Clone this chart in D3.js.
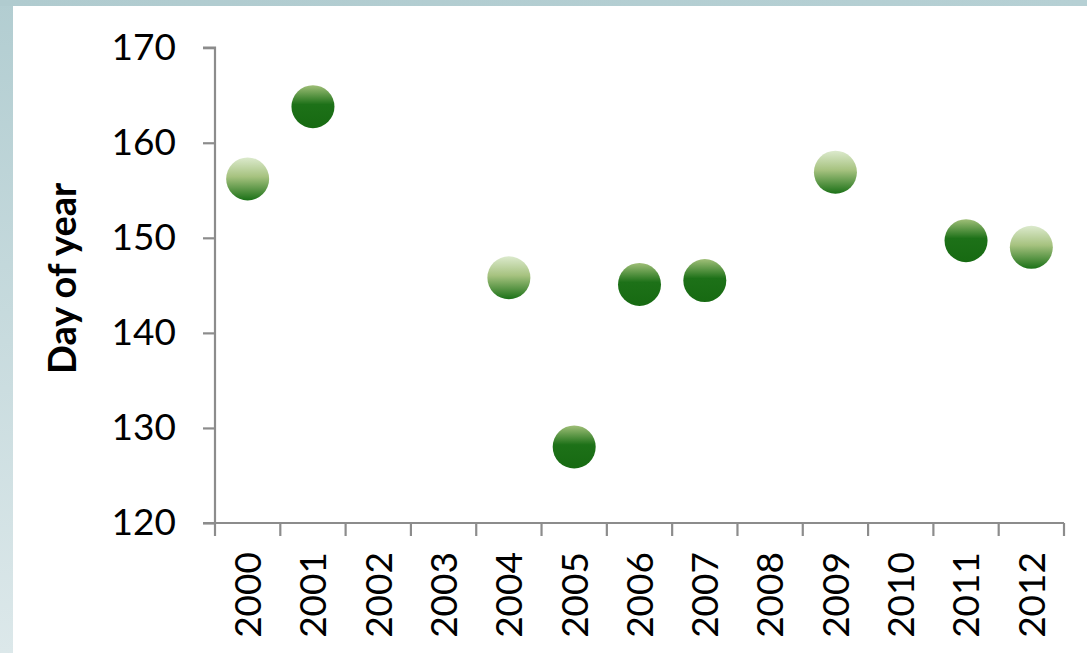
<!DOCTYPE html>
<html>
<head>
<meta charset="utf-8">
<script src="https://cdn.jsdelivr.net/npm/d3@7/dist/d3.min.js"></script>
<style>
  html, body { margin: 0; padding: 0; background: #ffffff; }
  svg { display: block; }
  text { font-family: Lato, "Open Sans", sans-serif; fill: #000; }
</style>
</head>
<body>
<svg id="chart" width="1087" height="653"></svg>
<script>
// Year categories along the x axis
const years = ["2000","2001","2002","2003","2004","2005","2006","2007","2008","2009","2010","2011","2012"];
// Day-of-year values, split by marker style (null = no observation in that series)
const lightValues = [156.2, null, null, null, 145.8, null, null, null, null, 156.9, null, null, 149.0];
const darkValues  = [null, 163.8, null, null, null, 128.0, 145.1, 145.5, null, null, null, 149.7, null];
// Value axis ticks
const yTicks = [120, 130, 140, 150, 160, 170];
const yTitle = "Day of year";

const W = 1087, H = 653;
const svg = d3.select("#chart");
const defs = svg.append("defs");

// Frame: pale blue-grey strips on the top and left edges
const frameV = defs.append("linearGradient").attr("id", "frameV")
  .attr("x1", 0).attr("y1", 0).attr("x2", 0).attr("y2", 1);
frameV.append("stop").attr("offset", 0).attr("stop-color", "#b2cdd1");
frameV.append("stop").attr("offset", 1).attr("stop-color", "#dce8ea");
const frameH = defs.append("linearGradient").attr("id", "frameH")
  .attr("x1", 0).attr("y1", 0).attr("x2", 1).attr("y2", 0);
frameH.append("stop").attr("offset", 0).attr("stop-color", "#b0cbcf");
frameH.append("stop").attr("offset", 1).attr("stop-color", "#b6d0d4");
svg.append("rect").attr("x", 0).attr("y", 0).attr("width", 13).attr("height", H).attr("fill", "url(#frameV)");
svg.append("rect").attr("x", 0).attr("y", 0).attr("width", W).attr("height", 6).attr("fill", "url(#frameH)");

// Marker fills
const gLight = defs.append("linearGradient").attr("id", "gLight")
  .attr("x1", 0).attr("y1", 0).attr("x2", 0).attr("y2", 1);
gLight.append("stop").attr("offset", 0).attr("stop-color", "#dceacd");
gLight.append("stop").attr("offset", 0.45).attr("stop-color", "#a6c27f");
gLight.append("stop").attr("offset", 1).attr("stop-color", "#1b7117");
const gDark = defs.append("linearGradient").attr("id", "gDark")
  .attr("x1", 0).attr("y1", 0).attr("x2", 0).attr("y2", 1);
gDark.append("stop").attr("offset", 0).attr("stop-color", "#a0bf78");
gDark.append("stop").attr("offset", 0.45).attr("stop-color", "#1d7118");
gDark.append("stop").attr("offset", 1).attr("stop-color", "#176a12");

const plot = { left: 215, right: 1064, top: 47.7, bottom: 523 };

const x = d3.scaleBand().domain(years).range([plot.left, plot.right]).padding(0);
const y = d3.scaleLinear().domain([120, 170]).range([plot.bottom, plot.top]);

const axisColor = "#8c8c8c";

// Y axis
const yAxis = svg.append("g").attr("transform", `translate(${plot.left},0)`)
  .call(d3.axisLeft(y).tickValues(yTicks).tickSize(12).tickPadding(27).tickFormat(d3.format("d")));
yAxis.select(".domain").attr("stroke", axisColor).attr("stroke-width", 2.2);
yAxis.selectAll(".tick line").attr("stroke", axisColor).attr("stroke-width", 2.2);
yAxis.selectAll(".tick text").style("font-size", "37px").attr("fill", "#000");
yAxis.select(".domain").attr("d", `M-12,${plot.top}H0V${plot.bottom}`);

// X axis: labels centred in each band, tick marks on band boundaries
const xAxis = svg.append("g").attr("transform", `translate(0,${plot.bottom})`)
  .call(d3.axisBottom(x).tickSize(0).tickPadding(0));
xAxis.select(".domain").remove();
xAxis.selectAll(".tick text")
  .style("font-size", "37px")
  .attr("text-anchor", "end")
  .attr("dy", "0.36em")
  .attr("transform", "translate(0,29) rotate(-90)")
  .attr("x", 0).attr("y", 0);
const boundaries = years.map(d => x(d)).concat([x(years[years.length - 1]) + x.bandwidth()]);
svg.append("line")
  .attr("x1", plot.left - 12).attr("x2", plot.right)
  .attr("y1", plot.bottom).attr("y2", plot.bottom)
  .attr("stroke", axisColor).attr("stroke-width", 2.2);
svg.append("g").selectAll("line").data(boundaries).join("line")
  .attr("x1", d => d).attr("x2", d => d)
  .attr("y1", plot.bottom).attr("y2", plot.bottom + 13)
  .attr("stroke", axisColor).attr("stroke-width", 2.2);

// Y axis title
svg.append("text")
  .attr("transform", `translate(76,${(plot.top + plot.bottom) / 2 - 7}) rotate(-90)`)
  .attr("text-anchor", "middle")
  .style("font-size", "38px").style("font-weight", "bold")
  .text(yTitle);

// Markers
const r = 21.5;
function drawSeries(values, fill) {
  const pts = years.map((yr, i) => ({ yr, v: values[i] })).filter(d => d.v != null);
  svg.append("g").selectAll("circle").data(pts).join("circle")
    .attr("cx", d => x(d.yr) + x.bandwidth() / 2)
    .attr("cy", d => y(d.v))
    .attr("r", r)
    .attr("fill", fill);
}
drawSeries(lightValues, "url(#gLight)");
drawSeries(darkValues, "url(#gDark)");
</script>
</body>
</html>
